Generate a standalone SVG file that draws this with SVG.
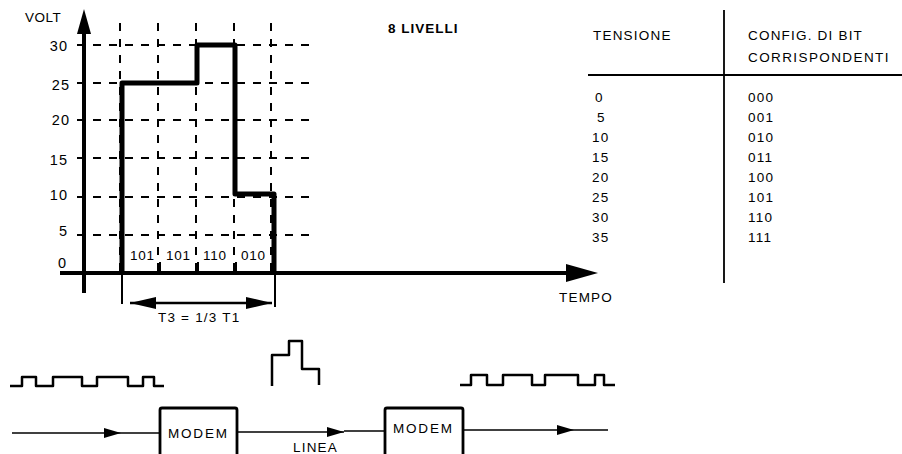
<svg xmlns="http://www.w3.org/2000/svg" width="902" height="454" viewBox="0 0 902 454">
<style>
text{font-family:"Liberation Sans",Arial,sans-serif;font-size:13.5px;letter-spacing:1.2px;fill:#000}
.ax{font-size:14.5px;letter-spacing:1px}
.b{font-weight:bold;letter-spacing:1px}
.grid{stroke:#000;stroke-width:2;stroke-dasharray:8 8;fill:none}
.thick{stroke:#000;stroke-width:5;fill:none;stroke-linejoin:round}
.axis{stroke:#000;stroke-width:4;fill:none}
.thin{stroke:#000;stroke-width:1.6;fill:none}
.wave{stroke:#000;stroke-width:2.5;fill:none;stroke-linejoin:round}
.box{stroke:#000;stroke-width:2.8;fill:#fff}
</style>
<defs>
<marker id="ah" viewBox="0 0 17 10" refX="17" refY="5" markerWidth="17" markerHeight="10" markerUnits="userSpaceOnUse" orient="auto"><path d="M0,0 L17,5 L0,10 Z" fill="#000"/></marker>
<marker id="dh" viewBox="0 0 26 12" refX="26" refY="6" markerWidth="26" markerHeight="12" markerUnits="userSpaceOnUse" orient="auto-start-reverse"><path d="M0,0 L26,6 L0,12 Z" fill="#000"/></marker>
</defs>

<g id="chart">
  <g id="grid">
    <path class="grid" d="M77,45 H310 M77,83 H310 M77,120 H310 M77,158 H310 M77,197 H310 M77,235 H310"/>
    <path class="grid" d="M120,23 V272 M158,23 V272 M196,23 V272 M234,23 V272 M271,23 V272"/>
  </g>
  <g id="axes">
    <path class="axis" d="M60,273 H570"/>
    <path d="M566,264 L598,273 L566,282 Z" fill="#000"/>
    <path class="axis" d="M84,293 V30"/>
    <path d="M77,34 L84,9 L91,34 Z" fill="#000"/>
    <path class="thin" d="M160,262 V273 M198,262 V273 M236,262 V273" style="stroke-width:2"/>
  </g>
  <g id="signal">
    <path class="thick" d="M122,272 V83 H197 V45 H235 V194 H274 V272"/>
  </g>
  <g id="axis-labels">
    <text x="25" y="22" style="letter-spacing:0.5px">VOLT</text>
    <text class="ax" x="68" y="51" text-anchor="end">30</text>
    <text class="ax" x="70" y="90" text-anchor="end">25</text>
    <text class="ax" x="70" y="125" text-anchor="end">20</text>
    <text class="ax" x="68" y="165" text-anchor="end">15</text>
    <text class="ax" x="68" y="200" text-anchor="end">10</text>
    <text class="ax" x="68" y="236" text-anchor="end">5</text>
    <text class="ax" x="67" y="268" text-anchor="end">0</text>
    <text x="130" y="260" style="letter-spacing:0.8px">101</text>
    <text x="166" y="260" style="letter-spacing:0.8px">101</text>
    <text x="203" y="260" style="letter-spacing:0.8px">110</text>
    <text x="241" y="260" style="letter-spacing:0.8px">010</text>
    <text x="559" y="302">TEMPO</text>
    <text class="b" x="388" y="33">8 LIVELLI</text>
  </g>
  <g id="dimension">
    <path class="thin" d="M122,273 V304 M275,273 V307" style="stroke-width:2"/>
    <path class="thin" d="M130,303 H272" style="stroke-width:2.5" marker-start="url(#dh)" marker-end="url(#dh)"/>
    <text x="158" y="322">T3 = 1/3 T1</text>
  </g>
</g>

<g id="table">
  <path class="thin" d="M724,10 V283 M588,75 H902" style="stroke-width:1.8"/>
  <text x="593" y="40">TENSIONE</text>
  <text x="748" y="40">CONFIG. DI BIT</text>
  <text x="748" y="62" style="letter-spacing:1.4px">CORRISPONDENTI</text>
  <text x="595" y="102">0</text>
  <text x="597" y="122">5</text>
  <text x="592" y="142">10</text>
  <text x="592" y="162">15</text>
  <text x="592" y="182">20</text>
  <text x="592" y="202">25</text>
  <text x="592" y="222">30</text>
  <text x="592" y="242">35</text>
  <text x="748" y="102">000</text>
  <text x="748" y="122">001</text>
  <text x="748" y="142">010</text>
  <text x="748" y="162">011</text>
  <text x="748" y="182">100</text>
  <text x="748" y="202">101</text>
  <text x="748" y="222">110</text>
  <text x="748" y="242">111</text>
</g>

<g id="waves">
  <path class="wave" d="M10,386 H22 V377 H36 V386 H53 V377 H82 V386 H97 V377 H128 V386 H143 V377 H154 V386 H164"/>
  <path class="wave" d="M272,386 V355 H289 V341 H302 V369 H319 V385"/>
  <path class="wave" d="M460,385 H471 V375 H487 V385 H503 V375 H532 V385 H545 V375 H578 V385 H595 V375 H604 V385 H615"/>
</g>

<g id="connectors">
  <path class="thin" d="M12,433 H121" marker-end="url(#ah)"/>
  <path class="thin" d="M121,433 H160"/>
  <path class="thin" d="M237,432 H344" marker-end="url(#ah)"/>
  <path class="thin" d="M344,431 H385"/>
  <path class="thin" d="M463,430 H574" marker-end="url(#ah)"/>
  <path class="thin" d="M574,430 H608"/>
  <text x="293" y="452">LINEA</text>
</g>

<g id="modem1">
  <rect class="box" x="160" y="408" width="77" height="50" rx="2"/>
  <text x="168" y="438" style="letter-spacing:1.8px">MODEM</text>
</g>
<g id="modem2">
  <rect class="box" x="385" y="408" width="78" height="50" rx="2"/>
  <text x="393" y="433" style="letter-spacing:1.8px">MODEM</text>
</g>
</svg>
